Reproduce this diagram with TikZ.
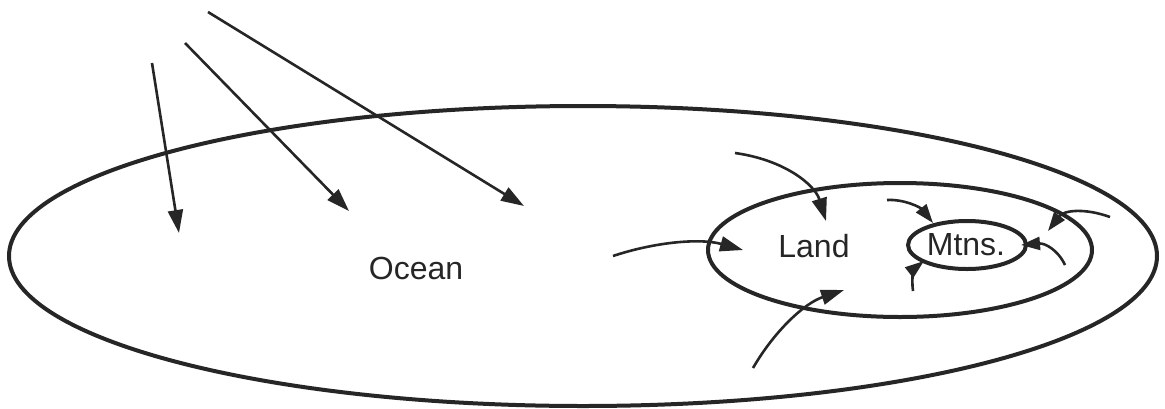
\documentclass[tikz,border=0pt]{standalone}
\usepackage{fontspec}
\setmainfont{Liberation Sans}
\usetikzlibrary{arrows.meta,shapes.geometric}
\begin{document}
\begin{tikzpicture}[x=1pt,y=-1pt,
  region/.style={draw=black!85,line width=4pt,ellipse,inner sep=0pt},
  label/.style={font=\fontsize{32}{32}\selectfont,text=black!85,inner sep=0pt},
  flow/.style={draw=black!85,line width=2.6pt,-{Triangle[length=23pt,width=15pt]}},
  smallflow/.style={draw=black!85,line width=2.6pt,-{Triangle[length=19pt,width=13pt]}}]
\useasboundingbox (0,0) rectangle (1165,408);
% regions
\node[region,minimum width=1148pt,minimum height=300pt] (oceanE) at (583,256) {};
\node[region,minimum width=384pt,minimum height=134pt] (landE) at (900,250) {};
\node[region,minimum width=118pt,minimum height=48pt] (mtnsE) at (967,245) {};
% labels
\node[label] (ocean) at (416,268) {Ocean};
\node[label] (land) at (814,246) {Land};
\node[label] (mtns) at (966,245) {Mtns.};
% straight arrows
\coordinate (s1) at (152,63);  \coordinate (e1) at (179,233);
\coordinate (s2) at (185,43);  \coordinate (e2) at (349,211);
\coordinate (s3) at (208,12);  \coordinate (e3) at (524,206);
\draw[flow] (s1) -- (e1);
\draw[flow] (s2) -- (e2);
\draw[flow] (s3) -- (e3);
% curved arrows into Land
\coordinate (a1) at (735,153); \coordinate (a2) at (826,221);
\coordinate (b1) at (613,256); \coordinate (b2) at (743,250);
\coordinate (c1) at (753,368); \coordinate (c2) at (844,290);
\draw[flow] (a1) .. controls (785,160) and (815,185) .. (a2);
\draw[flow] (b1) .. controls (655,242) and (700,238) .. (b2);
\draw[flow] (c1) .. controls (775,330) and (805,303) .. (c2);
% arrows into Mtns and Land (right side)
\coordinate (d1) at (887,200); \coordinate (d2) at (933,223);
\coordinate (f1) at (913,291); \coordinate (f2) at (924,261);
\coordinate (g1) at (1065,265); \coordinate (g2) at (1021,245);
\coordinate (h1) at (1110,217); \coordinate (h2) at (1048,231);
\draw[smallflow] (d1) .. controls (905,199) and (921,208) .. (d2);
\draw[smallflow] (f1) .. controls (911,277) and (915,268) .. (f2);
\draw[smallflow] (g1) .. controls (1058,250) and (1045,243) .. (g2);
\draw[smallflow] (h1) .. controls (1085,208) and (1064,210) .. (h2);
\end{tikzpicture}
\end{document}
